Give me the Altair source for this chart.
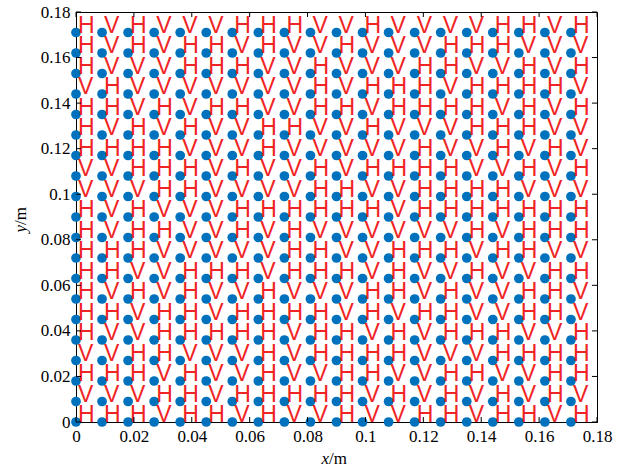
import altair as alt
import pandas as pd

# grid coordinates (m)
x_values = [0, 0.009, 0.018, 0.027, 0.036, 0.045, 0.054, 0.063, 0.072, 0.081,
            0.09, 0.099, 0.108, 0.117, 0.126, 0.135, 0.144, 0.153, 0.162, 0.171]
y_values = [0, 0.009, 0.018, 0.027, 0.036, 0.045, 0.054, 0.063, 0.072, 0.081,
            0.09, 0.099, 0.108, 0.117, 0.126, 0.135, 0.144, 0.153, 0.162, 0.171]

# label per grid point, one string per row (bottom row first), one char per column
row_labels = [
    "HHHVHHVHVVHVVHHVHHVH",  # y = 0
    "VVVHHVHHHHHVHVHVHVHV",
    "HHHVHVVHVVHHVVHHVVHH",
    "VVHHVVVHVHHHHVVVHHHH",
    "HVVHHHHHVHHVHVHHHVVH",
    "HHVHHVHHHHVHVHHVVHHV",
    "HVHVHVVHVVVHHVHVVHHV",
    "HHVVHHHVHHHVHVVHVVHH",
    "HHHVVVVVHHVVHHHVHHVV",
    "HVHHVVHVHVVVVVVHVHHH",
    "HVHVVVHHHHHHVHHHHHHH",
    "VVVHHVVVVHHVVHHHHVVV",
    "VVHHHVHVVHVHHHHVVHVH",
    "HHHHVVVHVVVVVHVVHVHV",
    "HVHVHVVHHVVHVVVHHHVV",
    "HHVHVHHVVHHVHHHHVHVH",
    "VHVVVVVVVHVHHHVHHHHV",
    "HVVVHHHVVHVVVHHVVHVH",
    "HVHVHHVHVVHVVVHHHVVV",
    "HVHVVVHHHVVHVVVVHHVH",  # y = 0.171
]

tick_values = [0, 0.02, 0.04, 0.06, 0.08, 0.1, 0.12, 0.14, 0.16, 0.18]

W, H = 521, 410
SERIF = "Liberation Serif, Times New Roman, serif"

rows = []
for j, yv in enumerate(y_values):
    for i, xv in enumerate(x_values):
        rows.append({"x": xv, "y": yv, "label": row_labels[j][i]})
df = pd.DataFrame(rows)
ticks = pd.DataFrame({"t": tick_values})

xs = alt.Scale(domain=[0, 0.18], nice=False, zero=False)
ys = alt.Scale(domain=[0, 0.18], nice=False, zero=False)

base = alt.Chart(df)

ax = alt.Axis(values=tick_values, format=".2~f", ticks=False, title=None,
              grid=False, labelFlush=False, labelFont=SERIF,
              labelFontSize=17, labelColor="#000000", labelPadding=6,
              domainColor="#000000", domainWidth=1)

points = base.mark_point(filled=True, shape="circle", size=95, opacity=1,
                         color="#0072BD").encode(
    x=alt.X("x:Q", scale=xs, axis=ax),
    y=alt.Y("y:Q", scale=ys, axis=ax),
)

letters = base.mark_text(align="left", baseline="alphabetic", dx=2,
                         font="Liberation Sans", fontSize=23,
                         color="#f02424").encode(
    x=alt.X("x:Q", scale=xs, axis=ax),
    y=alt.Y("y:Q", scale=ys, axis=ax),
    text="label:N",
)

tk = alt.Chart(ticks)
tick_bottom = tk.mark_rule(color="#000000", strokeWidth=1).encode(
    x=alt.X("t:Q", scale=xs, axis=ax), y=alt.value(H), y2=alt.value(H - 5))
tick_top = tk.mark_rule(color="#000000", strokeWidth=1).encode(
    x=alt.X("t:Q", scale=xs, axis=ax), y=alt.value(0), y2=alt.value(5))
tick_left = tk.mark_rule(color="#000000", strokeWidth=1).encode(
    y=alt.Y("t:Q", scale=ys, axis=ax), x=alt.value(0), x2=alt.value(5))
tick_right = tk.mark_rule(color="#000000", strokeWidth=1).encode(
    y=alt.Y("t:Q", scale=ys, axis=ax), x=alt.value(W), x2=alt.value(W - 5))

title_df = pd.DataFrame({"a": [0]})
tt = alt.Chart(title_df)
xt1 = tt.mark_text(text="x", font=SERIF, fontSize=17, fontStyle="italic",
                   align="right", baseline="middle", color="#000000").encode(
    x=alt.value(253), y=alt.value(H + 37))
xt2 = tt.mark_text(text="/m", font=SERIF, fontSize=17,
                   align="left", baseline="middle", color="#000000").encode(
    x=alt.value(253), y=alt.value(H + 37))
yt1 = tt.mark_text(text="y", font=SERIF, fontSize=17, fontStyle="italic",
                   angle=270, align="right", baseline="middle",
                   color="#000000").encode(
    x=alt.value(-55), y=alt.value(213))
yt2 = tt.mark_text(text="/m", font=SERIF, fontSize=17, angle=270,
                   align="left", baseline="middle", color="#000000").encode(
    x=alt.value(-55), y=alt.value(213))

chart = alt.layer(points, letters, tick_bottom, tick_top, tick_left,
                  tick_right, xt1, xt2, yt1, yt2).properties(
    width=W, height=H,
    autosize=alt.AutoSizeParams(type="none"),
    padding={"left": 76, "top": 12, "right": 26, "bottom": 45},
    background="#ffffff",
).configure_view(stroke="#000000", strokeWidth=1).configure_axis(
    labelFont=SERIF, labelFontSize=17, labelColor="#000000",
    labelPadding=6, domainColor="#000000", domainWidth=1,
)

chart.save("out.html", embed_options={"renderer": "svg", "actions": False})
